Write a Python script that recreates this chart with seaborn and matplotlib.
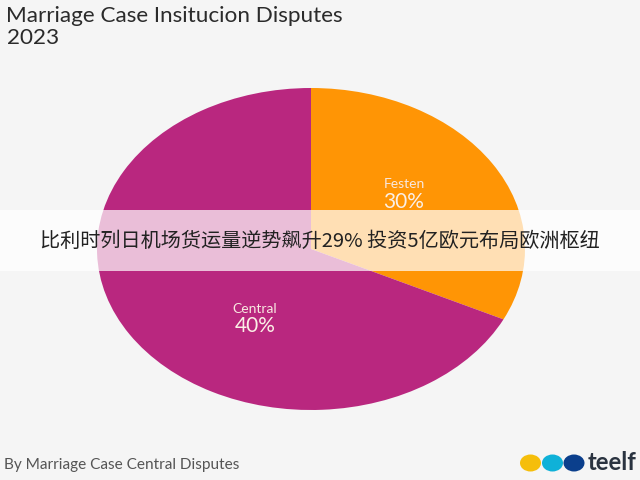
import matplotlib
matplotlib.use("Agg")
import matplotlib.pyplot as plt
from matplotlib.patches import Ellipse, Rectangle
import seaborn as sns

regions = ["Festen", "Central"]
wedge_shares = [32.2, 67.8]
printed_labels = ["30%", "40%"]
colors = ["#FF9505", "#B9277F"]
logo_colors = ["#F5BE0B", "#0FB1D8", "#0B3F8C"]

title_text = "Marriage Case Insitucion Disputes\n2023"
footer_text = "By Marriage Case Central Disputes"
logo_text = "teelf"
banner_text = "比利时列日机场货运量逆势飙升29% 投资5亿欧元布局欧洲枢纽"

sns.set_theme(style="white")
BG = "#F5F5F5"
W, H = 640, 480
fig = plt.figure(figsize=(6.4, 4.8), dpi=100, facecolor=BG)

# pie axes, stretched to the ellipse of the reference
ax = fig.add_axes([97 / W, 1 - 410 / H, 428 / W, 322 / H])
ax.pie(wedge_shares, colors=sns.color_palette(colors), startangle=90, counterclock=False,
       radius=1, wedgeprops={"linewidth": 0})
ax.set_aspect("auto")
ax.set_xlim(-1, 1)
ax.set_ylim(-1, 1)

# overlay in pixel coordinates
ov = fig.add_axes([0, 0, 1, 1], facecolor="none")
ov.set_xlim(0, W)
ov.set_ylim(H, 0)
ov.axis("off")

for name, pct, x, y1, y2, s1, s2 in [(regions[0], printed_labels[0], 404, 184, 202, 10.0, 15.0),
                                     (regions[1], printed_labels[1], 255, 309, 326, 10.0, 15.0)]:
    ov.text(x, y1, name, color="#F8E8E0", fontsize=s1, family="Lato", ha="center", va="center")
    ov.text(x, y2, pct, color="#FBEFE6", fontsize=s2, family="Lato", ha="center", va="center")

ov.add_patch(Rectangle((0, 210), W, 61, facecolor="white", alpha=0.7, linewidth=0))
ov.text(320, 241, banner_text, color="#222222", fontsize=14.5,
        family=["Noto Sans CJK SC", "DejaVu Sans"], ha="center", va="center")

ov.text(6, 16, title_text.split("\n")[0], color="#2B2B2B", fontsize=16.2, family="Lato",
        ha="left", va="center")
ov.text(7, 38, title_text.split("\n")[1], color="#2B2B2B", fontsize=16.2, family="Lato",
        ha="left", va="center")
ov.text(4, 465, footer_text, color="#555555", fontsize=11.1, family="Lato", ha="left", va="center")

for x, c in zip([530.5, 552.5, 574], logo_colors):
    ov.add_patch(Ellipse((x, 463), 21, 17, facecolor=c, linewidth=0))
ov.text(588, 463, logo_text, color="#2A3340", fontsize=17.2, family="Lato", weight="bold",
        ha="left", va="center")

fig.savefig("out.png", dpi=100, facecolor=BG)
